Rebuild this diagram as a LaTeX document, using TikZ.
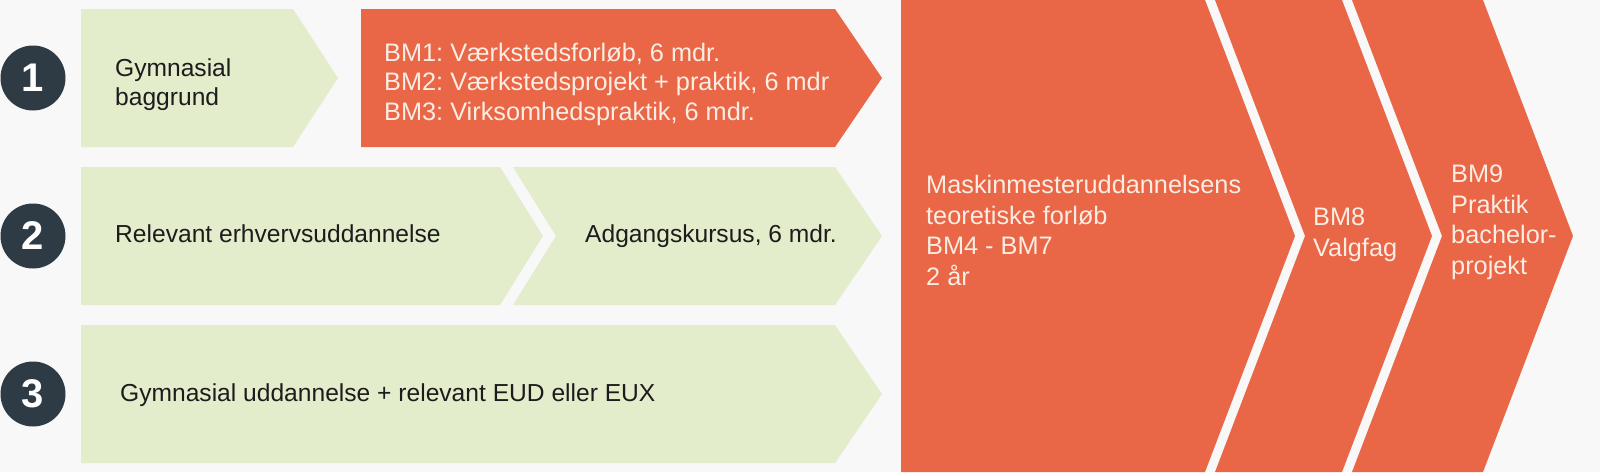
\documentclass[tikz,border=0pt]{standalone}
\usepackage{fontspec}
\setmainfont{Liberation Sans}
\frenchspacing
\definecolor{bgc}{HTML}{F8F8F8}
\definecolor{greenc}{HTML}{E3EDCB}
\definecolor{orangec}{HTML}{E96646}
\definecolor{darkc}{HTML}{2E3A44}
\definecolor{lightc}{HTML}{FAEDE4}
\definecolor{inkc}{HTML}{1C1C1C}
\begin{document}
\frenchspacing
\begin{tikzpicture}[x=1pt,y=-1pt,
  greenshape/.style={fill=greenc},
  orangeshape/.style={fill=orangec},
  numcirc/.style={circle,fill=darkc,text=white,minimum size=65pt,inner sep=0,
    font=\bfseries\fontsize{40}{40}\selectfont},
  darktxt/.style={inner sep=0,align=left,text=inkc,font=\frenchspacing\fontsize{24.6}{29.5}\selectfont},
  lighttxt/.style={inner sep=0,align=left,text=lightc,font=\frenchspacing\fontsize{25.3}{30.5}\selectfont}]
\fill[bgc] (0,0) rectangle (1600,472);
\useasboundingbox (0,0) rectangle (1600,472);
% row 1
\fill[greenshape] (81,9) -- (293,9) -- (338,78) -- (293,147) -- (81,147) -- cycle;
\fill[orangeshape] (361,9) -- (835,9) -- (882,78) -- (835,147) -- (361,147) -- cycle;
% row 2
\fill[greenshape] (81,167) -- (500,167) -- (543,236) -- (500,305) -- (81,305) -- cycle;
\fill[greenshape] (513,167) -- (835,167) -- (882,236) -- (835,305) -- (513,305) -- (556,236) -- cycle;
% row 3
\fill[greenshape] (81,325) -- (835,325) -- (882,394) -- (835,463) -- (81,463) -- cycle;
% big chevrons
\fill[orangeshape] (901,0) -- (1205,0) -- (1295,236) -- (1205,472) -- (901,472) -- cycle;
\fill[orangeshape] (1215,0) -- (1342,0) -- (1432,236) -- (1342,472) -- (1215,472) -- (1305,236) -- cycle;
\fill[orangeshape] (1352,0) -- (1483,0) -- (1573,236) -- (1483,472) -- (1352,472) -- (1442,236) -- cycle;
% numbers
\node[numcirc] (n1) at (33,78) {1};
\node[numcirc] (n2) at (33,236) {2};
\node[numcirc] (n3) at (33,394) {3};
% texts
\node[darktxt,anchor=north west] (t1) at (115,58) {Gymnasial\\baggrund};
\node[lighttxt,anchor=north west,font=\frenchspacing\fontsize{25.3}{29.5}\selectfont] (t2) at (384,42.5) {BM1: Værkstedsforløb, 6 mdr.\\BM2: Værkstedsprojekt + praktik, 6 mdr\\BM3: Virksomhedspraktik, 6 mdr.};
\node[darktxt,anchor=base west] (t3) at (115,242) {Relevant erhvervsuddannelse};
\node[darktxt,anchor=base west] (t4) at (585,242) {Adgangskursus, 6 mdr.};
\node[darktxt,anchor=base west] (t5) at (120,401) {Gymnasial uddannelse + relevant EUD eller EUX};
\node[lighttxt,anchor=north west] (t6) at (926,175) {Maskinmesteruddannelsens\\teoretiske forløb\\BM4 - BM7\\2 år};
\node[lighttxt,anchor=north west] (t7) at (1313,208) {BM8\\Valgfag};
\node[lighttxt,anchor=north west] (t8) at (1451,165) {BM9\\Praktik\\bachelor-\\projekt};
\end{tikzpicture}
\end{document}
